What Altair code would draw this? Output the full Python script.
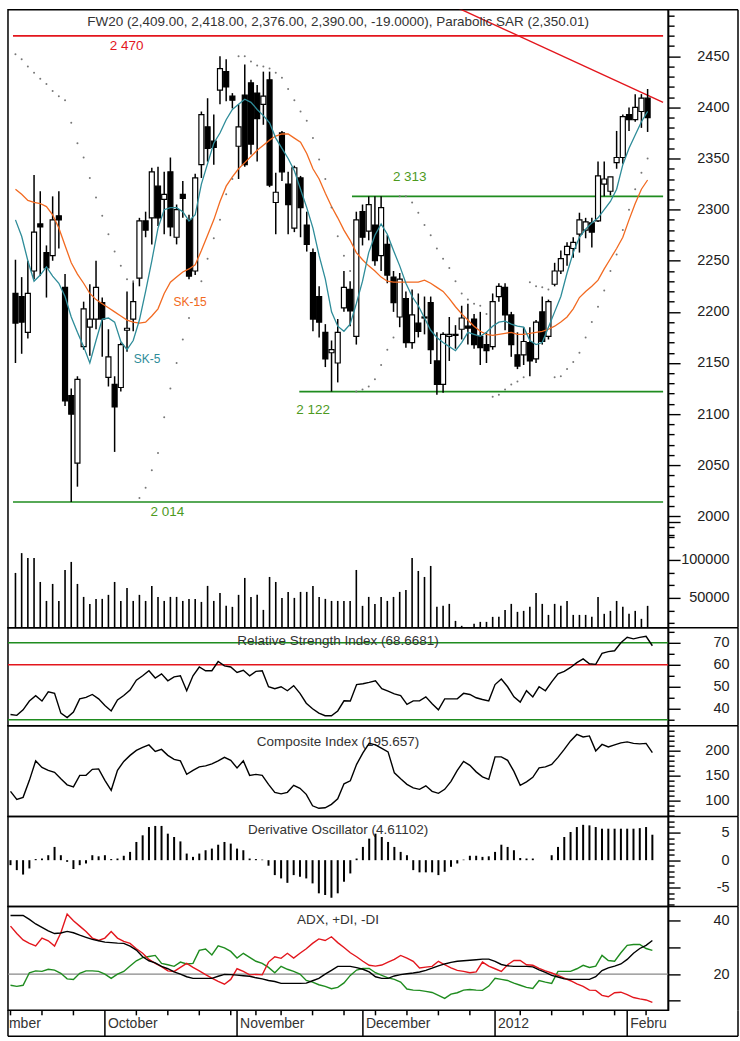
import altair as alt
import pandas as pd

FONT = "Liberation Sans"
W = 661
AX = 70
PH, RH, CH, DH, AH, SH = 619, 98, 91, 90, 104, 26
XS = alt.Scale(domain=[-0.4, 104.5], nice=False, zero=False)

RED = "#e3161d"
GREEN = "#1f8c1f"
LGREEN = "#4d9a1e"
TEAL = "#2e8c99"
ORANGE = "#f26a21"
TXT = "#333333"

# ---------------- data (trading day index 0 = 12 Sep 2011) ----------------
opens = [2218, 2215, 2180, 2240, 2286, 2258, 2255, 2294, 2224, 2118,
         2052, 2166, 2185, 2193, 2209, 2136, 2129, 2126, 2182, 2193,
         2233, 2289, 2292, 2323, 2310, 2337, 2273, 2315, 2290, 2240,
         2344, 2381, 2367, 2417, 2435, 2411, 2362, 2412, 2424, 2414,
         2403, 2427, 2307, 2375, 2325, 2282, 2331, 2285, 2258, 2215,
         2180, 2160, 2150, 2204, 2222, 2176, 2298, 2279, 2285, 2255,
         2266, 2234, 2195, 2213, 2170, 2189, 2195, 2209, 2152, 2129,
         2176, 2178, 2183, 2186, 2193, 2176, 2168, 2166, 2215, 2224,
         2197, 2158, 2158, 2170, 2154, 2200, 2176, 2227, 2240, 2256,
         2262, 2276, 2280, 2287, 2289, 2325, 2318, 2346, 2351, 2393,
         2388, 2396, 2409]
highs = [2251, 2234, 2250, 2334, 2318, 2265, 2313, 2318, 2237, 2125,
         2137, 2210, 2227, 2250, 2214, 2183, 2137, 2170, 2220, 2229,
         2292, 2298, 2341, 2342, 2337, 2351, 2305, 2328, 2295, 2335,
         2396, 2409, 2393, 2450, 2447, 2414, 2403, 2442, 2427, 2422,
         2435, 2435, 2336, 2377, 2337, 2343, 2333, 2298, 2262, 2225,
         2188, 2172, 2193, 2240, 2230, 2298, 2305, 2313, 2313, 2313,
         2275, 2240, 2238, 2220, 2222, 2218, 2215, 2215, 2180, 2180,
         2195, 2187, 2206, 2208, 2198, 2200, 2180, 2218, 2228, 2228,
         2200, 2180, 2185, 2185, 2192, 2215, 2212, 2248, 2260, 2268,
         2273, 2297, 2292, 2292, 2347, 2347, 2332, 2377, 2393, 2400,
         2413, 2413, 2418]
lows = [2150, 2159, 2174, 2232, 2235, 2214, 2250, 2262, 2108, 2014,
        2029, 2163, 2157, 2183, 2156, 2127, 2063, 2122, 2161, 2181,
        2225, 2273, 2266, 2284, 2276, 2274, 2266, 2292, 2232, 2236,
        2331, 2347, 2344, 2403, 2406, 2399, 2330, 2342, 2354, 2347,
        2383, 2322, 2276, 2328, 2276, 2278, 2273, 2259, 2181, 2175,
        2146, 2122, 2131, 2200, 2186, 2168, 2265, 2270, 2245, 2240,
        2228, 2200, 2185, 2165, 2164, 2175, 2178, 2149, 2119, 2121,
        2152, 2164, 2173, 2168, 2164, 2148, 2150, 2163, 2210, 2182,
        2156, 2144, 2148, 2137, 2150, 2168, 2173, 2225, 2237, 2245,
        2253, 2258, 2272, 2263, 2288, 2313, 2314, 2340, 2345, 2377,
        2386, 2380, 2376]
closes = [2189, 2190, 2218, 2278, 2283, 2243, 2290, 2290, 2113, 2100,
          2134, 2203, 2193, 2224, 2193, 2156, 2107, 2168, 2184, 2210,
          2289, 2280, 2337, 2292, 2315, 2283, 2300, 2311, 2235, 2331,
          2393, 2360, 2361, 2438, 2420, 2407, 2381, 2344, 2364, 2389,
          2411, 2324, 2317, 2337, 2305, 2341, 2302, 2266, 2193, 2190,
          2154, 2163, 2180, 2224, 2201, 2290, 2273, 2305, 2250, 2302,
          2236, 2209, 2232, 2170, 2197, 2181, 2194, 2163, 2129, 2178,
          2178, 2177, 2194, 2184, 2168, 2165, 2162, 2210, 2225, 2197,
          2168, 2147, 2171, 2152, 2190, 2171, 2210, 2240, 2252, 2264,
          2268, 2290, 2288, 2278, 2333, 2330, 2332, 2351, 2391, 2388,
          2400, 2409, 2390]
sar = [2452, 2447, 2440, 2434, 2428, 2423, 2416, 2411, 2407, 2385,
       2365, 2351, 2331, 2312, 2294, 2276, 2259, 2245, 2232, 2230,
       2018, 2028, 2045, 2062, 2097, 2125, 2150, 2173, 2194, 2212,
       2230, 2252, 2272, 2290, 2315, 2330, 2450, 2450, 2445, 2441,
       2440, 2438, 2434, 2429, 2418, 2407, 2396, 2387, 2370, 2349,
       2330, 2302, 2274, 2255, 2240, 2122, 2124, 2127, 2134, 2148,
       2163, 2175, 2313, 2313, 2307, 2297, 2285, 2275, 2262, 2252,
       2243, 2230, 2218, 2212, 2208, 2206, 2198, 2117, 2119, 2124,
       2129, 2132, 2136, 2229, 2225, 2224, 2222, 2136, 2137, 2144,
       2151, 2160, 2175, 2190, 2205, 2221, 2240, 2256, 2280, 2300,
       2320, 2336, 2350]
sma5 = [2290, 2274, 2250, 2230, 2236, 2244, 2235, 2228, 2215, 2195,
        2180, 2166, 2150, 2172, 2193, 2194, 2190, 2171, 2163, 2172,
        2192, 2220, 2250, 2282, 2300, 2302, 2302, 2298, 2289, 2295,
        2325, 2345, 2365, 2375, 2388, 2398, 2403, 2408, 2405, 2398,
        2392, 2385, 2370, 2360, 2350, 2338, 2320, 2302, 2282, 2255,
        2232, 2200, 2186, 2181, 2188, 2208, 2230, 2258, 2275, 2286,
        2276, 2260, 2245, 2228, 2215, 2206, 2194, 2182, 2175, 2170,
        2166, 2162, 2170, 2180, 2178, 2176, 2180, 2186, 2190, 2191,
        2188, 2186, 2185, 2172, 2168, 2170, 2185, 2200, 2215, 2238,
        2258, 2273, 2281, 2287, 2292, 2300, 2308, 2320, 2344, 2360,
        2373, 2386, 2396]
sma15 = [2320, 2315, 2309, 2307, 2306, 2303, 2295, 2282, 2265, 2248,
         2237, 2228, 2218, 2212, 2208, 2204, 2200, 2196, 2192, 2190,
         2189, 2190, 2196, 2203, 2218, 2229, 2234, 2239, 2242, 2246,
         2260, 2275, 2290, 2308, 2323, 2332, 2340, 2346, 2352, 2358,
         2363, 2368, 2372, 2374, 2374, 2370, 2366, 2355, 2340, 2330,
         2316, 2303, 2292, 2280, 2270, 2258, 2251, 2245, 2240, 2234,
         2230, 2229, 2229, 2229, 2229, 2229, 2231, 2228, 2224, 2220,
         2213, 2205, 2198, 2192, 2186, 2181, 2178, 2177, 2178, 2179,
         2180, 2178, 2178, 2179, 2180, 2181, 2183, 2186, 2190, 2195,
         2203, 2214, 2220, 2225, 2231, 2242, 2252, 2262, 2273, 2290,
         2306, 2320, 2329]
volume = [82900, 109000, 102600, 102600, 71000, 46000, 68400, 46000, 86800, 97400,
          68400, 51300, 42000, 48700, 48700, 54000, 71000, 46000, 63000, 46000,
          54000, 46000, 65800, 51300, 46000, 51300, 51300, 46000, 48700, 48700,
          44700, 65800, 46000, 56600, 39500, 38200, 54000, 76300, 51300, 54000,
          34200, 77600, 71000, 50000, 57900, 50000, 57900, 57900, 65800, 51300,
          48700, 46000, 46000, 46000, 46000, 86800, 39500, 51300, 42100, 51300,
          46000, 51300, 57900, 60500, 102600, 85500, 77600, 92100, 38200, 39500,
          42100, 19700, 13200, 11500, 15800, 18400, 18400, 25000, 25000, 34200,
          42100, 31600, 32900, 38200, 56600, 42100, 27600, 42100, 39500, 46000,
          27600, 27600, 27600, 25000, 51300, 29000, 32900, 46000, 38200, 29000,
          32900, 22400, 39500]
rsi = [37.4, 37.0, 39.5, 43.5, 45.9, 43.5, 47.7, 47.0, 38.0, 36.0,
       38.5, 44.5, 45.2, 46.5, 44.5, 41.5, 39.0, 44.0, 46.0, 48.5,
       53.0, 55.0, 57.3, 54.0, 55.9, 52.7, 54.5, 55.0, 48.2, 55.0,
       59.0, 57.3, 57.3, 61.5, 59.5, 59.0, 56.5, 57.5, 55.0, 57.0,
       57.3, 50.0, 49.1, 50.0, 48.2, 50.5, 47.0, 42.5, 40.0, 38.0,
       36.8, 36.8, 39.0, 43.6, 43.5, 51.0, 51.4, 52.0, 52.7, 49.1,
       48.0, 46.8, 46.0, 42.0, 43.6, 43.6, 45.4, 42.3, 39.5, 44.5,
       44.5, 44.5, 47.0, 46.5, 45.0, 44.2, 43.6, 51.0, 53.5, 50.0,
       45.4, 43.0, 48.2, 45.4, 50.0, 48.2, 52.2, 55.9, 57.0, 58.8,
       61.0, 62.7, 60.5, 60.2, 65.2, 66.0, 66.4, 70.0, 72.5, 71.8,
       72.5, 73.0, 68.67]
composite = [118, 102, 106, 140, 179, 166, 160, 156, 143, 131,
             127, 150, 150, 162, 163, 140, 120, 160, 178, 190,
             200, 206, 211, 198, 202, 190, 182, 179, 152, 160,
             167, 169, 173, 179, 186, 180, 165, 179, 150, 152,
             150, 132, 116, 113, 116, 130, 124, 112, 89, 84,
             85, 92, 103, 133, 139, 172, 195, 214, 211, 204,
             197, 155, 143, 132, 125, 122, 129, 118, 114, 122,
             138, 160, 178, 170, 157, 147, 142, 187, 187, 180,
             158, 130, 137, 146, 165, 167, 172, 186, 202, 219,
             232, 227, 229, 199, 212, 207, 211, 215, 217, 214,
             213, 214, 195.66]
deriv = [-0.9, -1.8, -2.6, -1.5, 0.2, 0.3, 0.9, 2.4, 0.9, -0.3,
         -1.6, -0.9, -0.6, 0.9, 0.7, 0.9, 0.2, 0.3, 0.8, 1.5,
         3.3, 4.5, 6.0, 6.2, 6.2, 4.8, 4.2, 3.4, 1.2, 0.6,
         1.2, 1.8, 2.1, 2.8, 3.3, 3.0, 2.1, 1.8, 0.3, 0.2,
         0.1, -1.0, -2.7, -3.3, -4.1, -2.7, -3.0, -3.3, -4.2, -6.0,
         -6.3, -6.8, -6.0, -3.9, -2.4, 0.3, 2.4, 3.9, 4.8, 4.2,
         3.3, 2.4, 1.5, 0.9, -1.8, -2.2, -2.2, -2.2, -2.7, -2.1,
         -1.2, -0.6, 0.1, 0.8, 0.8, 0.6, 0.7, 1.5, 2.8, 2.4,
         1.8, 0.4, 0.3, 0.3, 0.0, 0.0, 0.9, 2.4, 4.2, 5.1,
         6.0, 6.4, 6.3, 6.0, 5.7, 5.7, 5.7, 5.7, 5.7, 5.7,
         5.8, 6.0, 4.61]
adx = [42, 42, 42, 40.5, 38.8, 37.5, 36.2, 35.2, 35.4, 36,
       35.5, 34.6, 33.8, 33, 32.5, 32, 31.8, 31.6, 31.5, 30.5,
       29, 26.5, 25, 24.2, 22.9, 22, 20.8, 20, 19, 18.4,
       18.4, 18.4, 18.4, 19.2, 19.9, 19.8, 19.6, 19.4, 19.2, 18.6,
       18.2, 17.6, 17.2, 16.5, 16.5, 16.5, 16.5, 16.6, 17.5, 18.4,
       20.0, 21.4, 22.9, 22.9, 22.9, 22.4, 21.8, 20.8, 19.0, 18.4,
       18.4, 19.3, 19.8, 20.1, 20.4, 20.8, 21.4, 22.2, 23.1, 23.8,
       24.4, 24.8, 25.0, 25.2, 25.4, 25.6, 25.6, 24.8, 23.6, 23.1,
       22.9, 22.9, 22.9, 22.7, 21.6, 20.6, 19.5, 18.9, 18.2, 18.0,
       18.0, 18.0, 18.0, 19.0, 21.3, 22.3, 23.0, 23.8, 25.5, 27.8,
       29.6, 30.8, 32.6]
minus_di = [38.0, 35.2, 32.8, 31.5, 30.6, 33.5, 32.5, 30.5, 35.5, 42.5,
            40.0, 38.0, 36.0, 33.5, 32.6, 33.5, 36.0, 33.5, 32.3, 31.5,
            29.5, 27.8, 25.5, 24.0, 22.8, 21.2, 21.0, 22.5, 24.0, 22.5,
            21.2, 19.8, 18.5, 17.3, 16.2, 18.0, 22.0, 21.0, 19.7, 19.9,
            19.7, 24.5, 26.5, 25.9, 27.8, 26.0, 27.8, 29.5, 31.5, 33.2,
            32.6, 34.0, 31.8, 30.0, 28.0, 26.5, 24.8, 23.3, 23.0, 23.4,
            24.5, 25.5, 27.0, 26.0, 24.8, 22.3, 22.6, 22.9, 24.8, 23.5,
            22.3, 21.4, 21.0, 20.5, 20.8, 24.5, 23.0, 22.0, 21.0, 23.5,
            25.1, 25.1, 23.5, 23.3, 22.1, 21.2, 20.4, 19.5, 18.5, 17.5,
            16.3, 15.4, 14.0, 13.9, 12.0, 11.5, 13.0, 13.2, 12.3, 11.2,
            10.7, 10.3, 9.4]
plus_di = [15.8, 15.4, 15.8, 20.5, 21.2, 21.0, 21.8, 21.5, 20.3, 18.2,
           18.0, 20.3, 21.2, 21.2, 21.0, 20.0, 18.4, 20.0, 21.0, 23.0,
           25.0, 26.2, 26.6, 27.0, 24.0, 23.5, 22.9, 24.5, 23.8, 24.0,
           28.9, 29.4, 27.2, 30.6, 29.8, 28.5, 26.0, 27.8, 26.3, 24.8,
           24.0, 22.5, 20.5, 22.9, 21.8, 21.0, 20.0, 17.6, 17.0, 16.0,
           15.4, 14.5, 15.0, 16.7, 19.5, 21.5, 22.1, 22.1, 20.5, 19.5,
           18.6, 18.0, 17.0, 14.4, 14.0, 13.9, 13.5, 13.1, 12.0, 10.9,
           12.5, 13.0, 14.0, 14.2, 14.0, 13.9, 15.5, 18.4, 18.0, 17.6,
           16.6, 15.8, 15.0, 14.6, 17.6, 17.0, 16.5, 21.0, 21.0, 21.0,
           22.0, 23.3, 22.5, 23.0, 27.0, 25.1, 24.8, 28.0, 30.8, 31.1,
           31.1, 29.6, 28.9]

level_values = [2470, 2313, 2122, 2014]
level_from = [-0.4, 54.3, 45.8, -0.4]
level_text = ["2 470", "2 313", "2 122", "2 014"]
level_label_at = [15.2, 60.9, 45.3, 21.8]
trend_i = [60, 104.5]
trend_p = [2529, 2405]

weekly_ticks = [0, 5, 10, 20, 25, 30, 35, 39, 43, 48, 53, 58, 63, 68, 73, 81, 86, 91, 96, 101]
month_ticks = [15, 36, 56, 77, 98]
month_labels = ["October", "November", "December", "2012", "Febru"]
first_label = "mber"

title_main = "FW20 (2,409.00, 2,418.00, 2,376.00, 2,390.00, -19.0000), Parabolic SAR (2,350.01)"
title_rsi = "Relative Strength Index (68.6681)"
title_ci = "Composite Index (195.657)"
title_do = "Derivative Oscillator (4.61102)"
title_adx = "ADX, +DI, -DI"

# ---------------- tables ----------------
n = len(opens)
df = pd.DataFrame({
    "i": list(range(n)), "open": opens, "high": highs, "low": lows, "close": closes,
    "sar": sar, "sma5": sma5, "sma15": sma15, "vol": volume, "rsi": rsi,
    "ci": composite, "do": deriv, "adx": adx, "pdi": plus_di, "mdi": minus_di,
})
df["dir"] = ["up" if c >= o else "down" for o, c in zip(opens, closes)]
df["zero"] = 0.0
one = pd.DataFrame({"k": [0]})

LPAD = 49


def X(field="i"):
    return alt.X(f"{field}:Q", scale=XS, axis=None)


def rax(values, major_test, label_test, domain=True, all_long=False):
    ts = 12 if all_long else {"condition": {"test": major_test, "value": 12}, "value": 6}
    return alt.Axis(orient="right", values=values, title=None, grid=False,
                    labelOverlap=False, labelAlign="right", labelBaseline="middle",
                    labelPadding=LPAD, domain=domain,
                    labelExpr=f"({label_test}) ? ('' + datum.value) : ''",
                    tickSize=ts)


def frame(h):
    top = alt.Chart(one).mark_rule(color="black", strokeWidth=1.5, clip=False).encode(
        x=alt.value(W), x2=alt.value(W + AX), y=alt.value(0))
    right = alt.Chart(one).mark_rule(color="black", strokeWidth=1.5, clip=False).encode(
        x=alt.value(W + AX), y=alt.value(0), y2=alt.value(h))
    return [top, right]


def title_text(text, y, size=13.5):
    return alt.Chart(one).mark_text(font=FONT, fontSize=size, color=TXT, align="center",
                                    baseline="middle").encode(
        x=alt.value(W / 2), y=alt.value(y), text=alt.value(text))


def hline(val, color, scale, width=1.5):
    d = pd.DataFrame({"v": [val]})
    return alt.Chart(d).mark_rule(color=color, strokeWidth=width).encode(
        y=alt.Y("v:Q", scale=scale, axis=None))


# ---------------- price + volume panel ----------------
PS = alt.Scale(domain=[1890.9, 2495.6], nice=False, zero=False)
VS = alt.Scale(domain=[10526, 825000], nice=False, zero=False)

price_layers = []
lvl_colors = [RED, GREEN, GREEN, GREEN]
lbl_colors = [RED, LGREEN, LGREEN, LGREEN]
lbl_dy = [10, -19, 18, 10]
for k in range(len(level_values)):
    d = pd.DataFrame({"lvl": [level_values[k]], "x0": [level_from[k]], "x1": [104.5]})
    price_layers.append(alt.Chart(d).mark_rule(color=lvl_colors[k], strokeWidth=1.6).encode(
        x=X("x0"), x2="x1:Q", y=alt.Y("lvl:Q", scale=PS, axis=None)))
    t = pd.DataFrame({"i": [level_label_at[k]], "p": [level_values[k]], "t": [level_text[k]]})
    price_layers.append(alt.Chart(t).mark_text(font=FONT, fontSize=13.5, color=lbl_colors[k],
                                               align="left", baseline="middle", dy=lbl_dy[k]).encode(
        x=X("i"), y=alt.Y("p:Q", scale=PS, axis=None), text="t:N"))

trend = pd.DataFrame({"i": trend_i, "p": trend_p})
price_layers.append(alt.Chart(trend).mark_line(color=RED, strokeWidth=1.4, clip=True).encode(
    x=X("i"), y=alt.Y("p:Q", scale=PS, axis=None)))

price_axis = rax(list(range(1980, 2500, 10)), "datum.value % 50 === 0",
                 "datum.value % 50 === 0 && datum.value >= 2000")
price_layers.append(alt.Chart(df).mark_rule(color="black", strokeWidth=1.5).encode(
    x=X(), y=alt.Y("low:Q", scale=PS, axis=price_axis), y2="high:Q"))
price_layers.append(alt.Chart(df).mark_bar(size=5, stroke="black", strokeWidth=1.2).encode(
    x=X(), y=alt.Y("open:Q", scale=PS, axis=None), y2="close:Q",
    fill=alt.Fill("dir:N", scale=alt.Scale(domain=["up", "down"], range=["white", "black"]),
                  legend=None)))
price_layers.append(alt.Chart(df).mark_line(color=ORANGE, strokeWidth=1.3).encode(
    x=X(), y=alt.Y("sma15:Q", scale=PS, axis=None)))
price_layers.append(alt.Chart(df).mark_line(color=TEAL, strokeWidth=1.3).encode(
    x=X(), y=alt.Y("sma5:Q", scale=PS, axis=None)))
price_layers.append(alt.Chart(df).mark_circle(color="#777777", size=4, opacity=1).encode(
    x=X(), y=alt.Y("sar:Q", scale=PS, axis=None)))

sk = pd.DataFrame({"i": [25.5, 19.1], "p": [2210, 2154], "t": ["SK-15", "SK-5"]})
price_layers.append(alt.Chart(sk).mark_text(font=FONT, fontSize=12, align="left",
                                            baseline="middle").encode(
    x=X("i"), y=alt.Y("p:Q", scale=PS, axis=None), text="t:N",
    color=alt.Color("t:N", scale=alt.Scale(domain=["SK-15", "SK-5"], range=[ORANGE, TEAL]),
                    legend=None)))
price_layers.append(title_text(title_main, 12))
price_layers += frame(PH)

vol_axis = rax([16667, 33333, 50000, 66667, 83333, 100000, 116667, 133333, 150000],
               "datum.value % 50000 === 0",
               "datum.value === 50000 || datum.value === 100000", domain=False)
price_layers.append(alt.Chart(df).mark_rule(color="black", strokeWidth=1.6).encode(
    x=X(), y=alt.Y("vol:Q", scale=VS, axis=vol_axis), y2=alt.value(PH)))

price_panel = alt.layer(*price_layers).resolve_scale(
    y="independent").properties(width=W, height=PH)

# ---------------- RSI ----------------
RS = alt.Scale(domain=[32.27, 76.82], nice=False, zero=False)
rsi_panel = alt.layer(
    hline(70, GREEN, RS),
    hline(60, RED, RS),
    hline(35, GREEN, RS),
    title_text(title_rsi, 13),
    alt.Chart(df).mark_line(color="black", strokeWidth=1.4).encode(
        x=X(), y=alt.Y("rsi:Q", scale=RS,
                       axis=rax(list(range(35, 80, 5)), "datum.value % 10 === 0",
                                "datum.value % 10 === 0"))),
    *frame(RH),
).resolve_scale(y="independent").properties(width=W, height=RH)

# ---------------- Composite ----------------
CS = alt.Scale(domain=[67.4, 249.4], nice=False, zero=False)
ci_panel = alt.layer(
    title_text(title_ci, 16),
    alt.Chart(df).mark_line(color="black", strokeWidth=1.4).encode(
        x=X(), y=alt.Y("ci:Q", scale=CS,
                       axis=rax(list(range(70, 250, 10)), "datum.value % 50 === 0",
                                "datum.value % 50 === 0"))),
    *frame(CH),
).resolve_scale(y="independent").properties(width=W, height=CH)

# ---------------- Derivative oscillator ----------------
DS = alt.Scale(domain=[-8.38, 7.89], nice=False, zero=False)
do_panel = alt.layer(
    title_text(title_do, 13),
    alt.Chart(df).mark_rule(color="black", strokeWidth=2).encode(
        x=X(), y=alt.Y("zero:Q", scale=DS,
                       axis=rax(list(range(-8, 8)), "datum.value % 5 === 0",
                                "datum.value % 5 === 0")), y2="do:Q"),
    *frame(DH),
).resolve_scale(y="independent").properties(width=W, height=DH)

# ---------------- ADX ----------------
AS = alt.Scale(domain=[6.40, 45.36], nice=False, zero=False)
adx_panel = alt.layer(
    hline(20, "#888888", AS, 1.2),
    title_text(title_adx, 14),
    alt.Chart(df).mark_line(color=GREEN, strokeWidth=1.4).encode(
        x=X(), y=alt.Y("pdi:Q", scale=AS, axis=None)),
    alt.Chart(df).mark_line(color=RED, strokeWidth=1.4).encode(
        x=X(), y=alt.Y("mdi:Q", scale=AS, axis=None)),
    alt.Chart(df).mark_line(color="black", strokeWidth=1.4).encode(
        x=X(), y=alt.Y("adx:Q", scale=AS,
                       axis=rax([10, 20, 30, 40], "true", "datum.value % 20 === 0",
                                all_long=True))),
    *frame(AH),
).resolve_scale(y="independent").properties(width=W, height=AH)

# ---------------- date strip ----------------
wk = pd.DataFrame({"i": weekly_ticks})
mo = pd.DataFrame({"i": month_ticks, "t": month_labels})
fl = pd.DataFrame({"i": [-0.4], "t": [first_label]})
strip = alt.layer(
    alt.Chart(wk).mark_rule(color="black", strokeWidth=1.5).encode(
        x=X(), y=alt.value(0), y2=alt.value(5)),
    alt.Chart(mo).mark_rule(color="black", strokeWidth=1.5).encode(
        x=X(), y=alt.value(0), y2=alt.value(SH)),
    alt.Chart(mo).mark_text(font=FONT, fontSize=14, color=TXT, align="left",
                            baseline="middle", dx=3, clip=True).encode(
        x=X(), y=alt.value(14), text="t:N"),
    alt.Chart(fl).mark_text(font=FONT, fontSize=14, color=TXT, align="left",
                            baseline="middle", dx=1).encode(
        x=X(), y=alt.value(14), text="t:N"),
    alt.Chart(one).mark_rule(color="black", strokeWidth=1.5, clip=False).encode(
        x=alt.value(0), y=alt.value(0), y2=alt.value(SH)),
    alt.Chart(one).mark_rule(color="black", strokeWidth=1.5, clip=False).encode(
        x=alt.value(0), x2=alt.value(W + AX), y=alt.value(SH)),
    alt.Chart(one).mark_rule(color="black", strokeWidth=1.5, clip=False).encode(
        x=alt.value(W + AX), y=alt.value(0), y2=alt.value(SH)),
).properties(width=W, height=SH, view=alt.ViewBackground(strokeOpacity=0))

chart = alt.vconcat(price_panel, rsi_panel, ci_panel, do_panel, adx_panel, strip,
                    spacing=0, bounds="flush").properties(
    padding={"left": 6, "top": 5, "right": 0, "bottom": 0},
    background="white",
).configure_view(stroke="black", strokeWidth=1.5).configure_axis(
    labelFont=FONT, labelFontSize=14.5, labelColor="#222222", tickColor="black",
    tickWidth=1.4, domainColor="black", domainWidth=1.5)

chart.save("out.html", embed_options={"renderer": "svg", "actions": False})
